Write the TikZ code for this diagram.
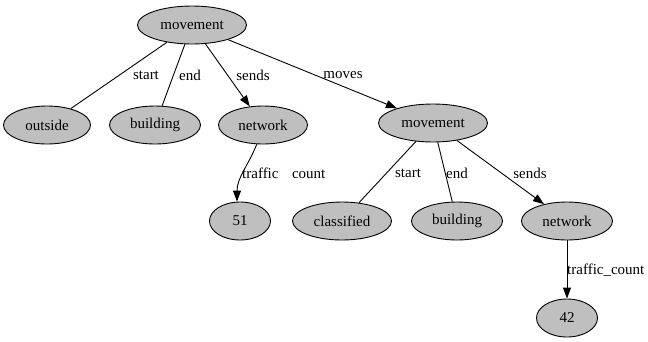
\documentclass[tikz,border=0pt]{standalone}
\usepackage{fontspec}
\setmainfont{Liberation Serif}
\usetikzlibrary{shapes.geometric,arrows.meta}
\begin{document}
\begin{tikzpicture}[x=1pt,y=-1pt,
  nd/.style={ellipse,draw=black,line width=0.9pt,fill=gray!50,inner sep=0pt,minimum height=38pt,font=\fontsize{15}{18}\selectfont},
  lbl/.style={inner sep=0pt,font=\fontsize{15}{18}\selectfont},
  ln/.style={line width=0.9pt},
  ar/.style={line width=0.9pt,-{Triangle[length=11pt,width=8pt]}}]
\useasboundingbox (0,0) rectangle (648,341);
\node[nd,minimum width=109pt] (m1) at (192,25) {movement};
\node[nd,minimum width=87pt] (out) at (47,125) {outside};
\node[nd,minimum width=91pt] (b1) at (155,125) {building};
\node[nd,minimum width=89pt] (n1) at (263,125) {network};
\node[nd,minimum width=109pt] (m2) at (433,123) {movement};
\node[nd,minimum width=61pt] (v51) at (240,221) {51};
\node[nd,minimum width=99pt] (cl) at (342,221) {classified};
\node[nd,minimum width=91pt] (b2) at (457,221) {building};
\node[nd,minimum width=91pt] (n2) at (567,221) {network};
\node[nd,minimum width=61pt] (v42) at (567,318) {42};
\draw[ln] (m1) -- (out);
\draw[ln] (m1) -- (b1);
\draw[ar] (m1) -- (n1);
\draw[ar] (m1) -- (m2);
\draw[ar] (n1.252) to[out=-112,in=90] ([xshift=-3pt]v51.north);
\draw[ln] (m2) -- (cl);
\draw[ln] (m2) -- (b2);
\draw[ar] (m2) -- (n2);
\draw[ar] (n2) -- (v42);
\node[lbl] (l1) at (146,75) {start};
\node[lbl] (l2) at (190,75) {end};
\node[lbl] (l3) at (253,75) {sends};
\node[lbl] (l4) at (343,75) {moves};
\node[lbl,anchor=west] (l5) at (242,173) {traffic\hspace{0.9em}count};
\node[lbl] (l6) at (408,173) {start};
\node[lbl] (l7) at (457,173) {end};
\node[lbl] (l8) at (530,173) {sends};
\node[lbl,anchor=west] (l9) at (567,270) {traffic\_count};
\end{tikzpicture}
\end{document}
